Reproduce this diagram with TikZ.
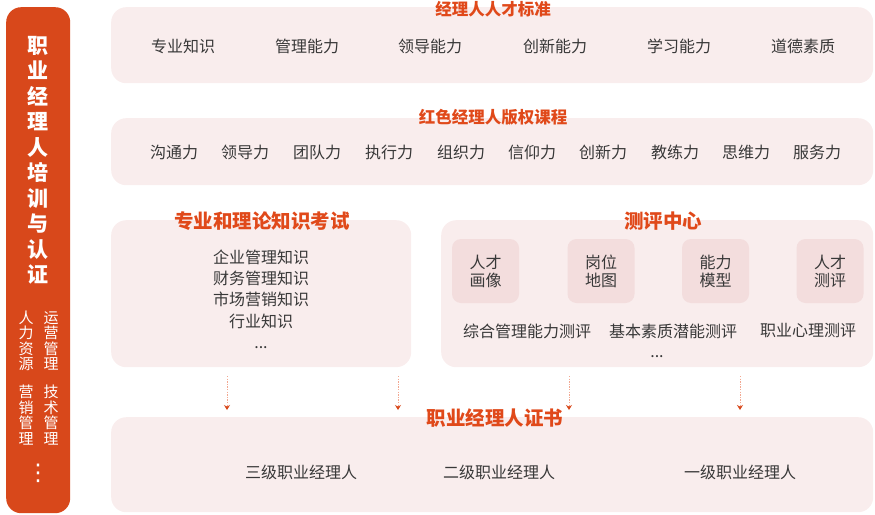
\documentclass[tikz,border=0pt]{standalone}
\usepackage{fontspec}
\setmainfont{Noto Sans CJK SC}
\newfontfamily\dejavu{DejaVu Sans}
\usetikzlibrary{arrows.meta}
\definecolor{barc}{HTML}{D8481B}
\definecolor{titc}{HTML}{E0491A}
\definecolor{boxc}{HTML}{F9EDED}
\definecolor{innc}{HTML}{F3DDDD}
\definecolor{txtc}{HTML}{383838}
\definecolor{arrl}{HTML}{F2A891}
\begin{document}
\begin{tikzpicture}[x=1pt,y=-1pt,
  panel/.style={fill=boxc, rounded corners=15pt, inner sep=0pt, anchor=north west},
  innerbox/.style={fill=innc, rounded corners=9pt, inner sep=0pt, minimum width=67pt, minimum height=64pt, text=txtc, align=center, font=\fontsize{16}{18}\selectfont},
  ttl/.style={text=titc, font=\bfseries\fontsize{16.5}{18}\selectfont, inner sep=0pt},
  bigttl/.style={text=titc, font=\bfseries\fontsize{19.5}{21}\selectfont, inner sep=0pt},
  item/.style={text=txtc, font=\fontsize{16}{18}\selectfont, inner sep=0pt},
  arr/.style={draw=arrl, line width=0.8pt, dash pattern=on 1.3pt off 1.3pt, -{Stealth[length=5pt,width=6pt,color=barc]}}
]
\useasboundingbox (0,0) rectangle (875,514);

% left bar
\node[fill=barc, rounded corners=15pt, inner sep=0pt, anchor=north west, minimum width=64pt, minimum height=506pt] (bar) at (6,7) {};
\node[text=white, font=\bfseries\fontsize{21}{25.5}\selectfont, align=center, inner sep=0pt] (bartitle) at (38,160.5)
  {职\\业\\经\\理\\人\\培\\训\\与\\认\\证};
\node[text=white, font=\fontsize{15}{15.5}\selectfont, align=center, inner sep=0pt] (s1) at (26,341) {人\\力\\资\\源};
\node[text=white, font=\fontsize{15}{15.5}\selectfont, align=center, inner sep=0pt] (s2) at (51,341) {运\\营\\管\\理};
\node[text=white, font=\fontsize{15}{15.5}\selectfont, align=center, inner sep=0pt] (s3) at (26,415) {营\\销\\管\\理};
\node[text=white, font=\fontsize{15}{15.5}\selectfont, align=center, inner sep=0pt] (s4) at (51,415) {技\\术\\管\\理};
\node[text=white, font=\dejavu\fontsize{23}{25}\selectfont, inner sep=0pt] (sdots) at (38,473) {⋮};

% box 1
\node[panel, minimum width=762pt, minimum height=76pt] (b1) at (111,7) {};
\node[ttl] (t1) at (493,9) {经理人人才标准};
\node[item] (i11) at (183,46) {专业知识};
\node[item] (i12) at (307,46) {管理能力};
\node[item] (i13) at (430,46) {领导能力};
\node[item] (i14) at (555,46) {创新能力};
\node[item] (i15) at (679,46) {学习能力};
\node[item] (i16) at (803,46) {道德素质};

% box 2
\node[panel, minimum width=762pt, minimum height=67pt] (b2) at (111,118) {};
\node[ttl] (t2) at (493,117) {红色经理人版权课程};
\node[item] (i21) at (174,152) {沟通力};
\node[item] (i22) at (245,152) {领导力};
\node[item] (i23) at (317,152) {团队力};
\node[item] (i24) at (389,152) {执行力};
\node[item] (i25) at (461,152) {组织力};
\node[item] (i26) at (532,152) {信仰力};
\node[item] (i27) at (603,152) {创新力};
\node[item] (i28) at (675,152) {教练力};
\node[item] (i29) at (746,152) {思维力};
\node[item] (i210) at (817,152) {服务力};

% box 3
\node[panel, minimum width=300pt, minimum height=147pt] (b3) at (111,220) {};
\node[bigttl] (t3) at (262,221) {专业和理论知识考试};
\node[item] (i31) at (261,257) {企业管理知识};
\node[item] (i32) at (261,278) {财务管理知识};
\node[item] (i33) at (261,299) {市场营销知识};
\node[item] (i34) at (261,321) {行业知识};
\node[item] (i35) at (261,348) {...};

% box 4
\node[panel, minimum width=432pt, minimum height=147pt] (b4) at (441,220) {};
\node[bigttl] (t4) at (663,221) {测评中心};
\node[innerbox] (q1) at (485.5,271) {人才\\画像};
\node[innerbox] (q2) at (601,271) {岗位\\地图};
\node[innerbox] (q3) at (715.5,271) {能力\\模型};
\node[innerbox] (q4) at (830,271) {人才\\测评};
\node[item] (i41) at (527,331) {综合管理能力测评};
\node[item] (i42) at (673,331) {基本素质潜能测评};
\node[item] (i43) at (808,331) {职业心理测评};
\node[item] (i44) at (657,357) {...};

% box 5
\node[panel, minimum width=762pt, minimum height=95pt] (b5) at (111,417) {};
\node[bigttl] (t5) at (495,418) {职业经理人证书};
\node[item] (i51) at (301,472) {三级职业经理人};
\node[item] (i52) at (499,472) {二级职业经理人};
\node[item] (i53) at (740,472) {一级职业经理人};

% arrows
\coordinate (a1s) at (227,376); \coordinate (a1e) at (227,410);
\coordinate (a2s) at (398,376); \coordinate (a2e) at (398,410);
\coordinate (a3s) at (569,376); \coordinate (a3e) at (569,410);
\coordinate (a4s) at (740,376); \coordinate (a4e) at (740,410);
\draw[arr] (a1s) -- (a1e);
\draw[arr] (a2s) -- (a2e);
\draw[arr] (a3s) -- (a3e);
\draw[arr] (a4s) -- (a4e);
\end{tikzpicture}
\end{document}
